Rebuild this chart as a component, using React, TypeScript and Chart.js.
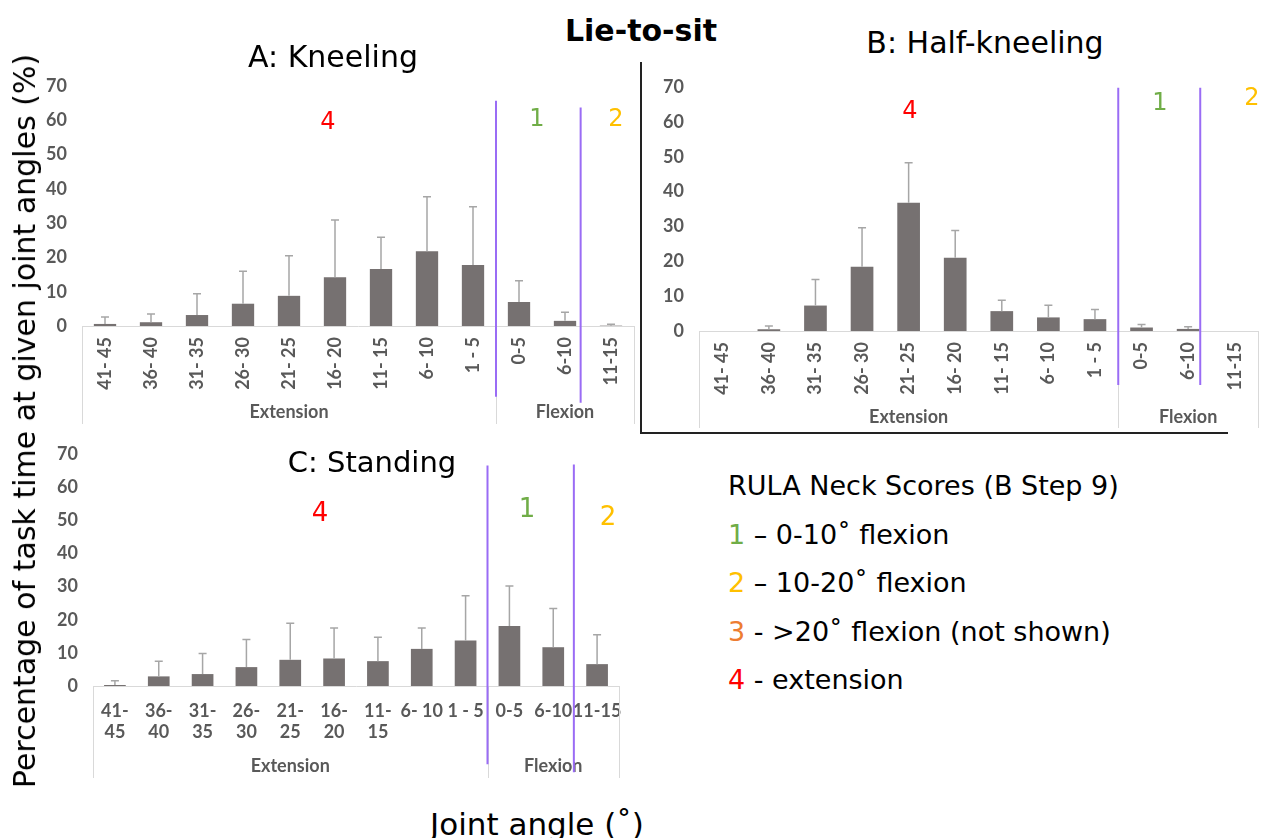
import React, { useEffect, useRef } from "react";
import { Chart, registerables } from "chart.js";

Chart.register(...registerables);

// ---------- data ----------
const categories = ["41- 45", "36- 40", "31- 35", "26- 30", "21- 25", "16- 20", "11- 15", "6- 10", "1 - 5", "0-5", "6-10", "11-15"];
const categoriesStanding: (string | string[])[] = [["41-", "45"], ["36-", "40"], ["31-", "35"], ["26-", "30"], ["21-", "25"], ["16-", "20"], ["11-", "15"], "6- 10", "1 - 5", "0-5", "6-10", "11-15"];
const groupLabels = ["Extension", "Flexion"];
const groupSizes = [9, 3];
const yTickMin = 0;
const yTickMax = 70;
const yTickStep = 10;

const kneelingMean = [0.6, 1.1, 3.2, 6.5, 8.8, 14.2, 16.6, 21.8, 17.8, 7.0, 1.5, 0.1];
const kneelingSD = [2.0, 2.4, 6.2, 9.5, 11.7, 16.7, 9.3, 15.9, 17.0, 6.2, 2.5, 0.4];

const halfKneelingMean = [0, 0.5, 7.3, 18.4, 36.8, 21.0, 5.7, 3.9, 3.4, 1.0, 0.6, 0];
const halfKneelingSD = [0, 0.9, 7.5, 11.2, 11.5, 7.8, 3.1, 3.5, 2.8, 0.9, 0.6, 0];

const standingMean = [0.3, 2.9, 3.6, 5.7, 7.9, 8.3, 7.5, 11.2, 13.7, 18.1, 11.7, 6.6];
const standingSD = [1.3, 4.6, 6.2, 8.3, 11.0, 9.2, 7.2, 6.3, 13.5, 12.1, 11.7, 8.9];

// ---------- styles ----------
const BAR = "#767171";
const ERR = "#a6a6a6";
const AXIS = "#d9d9d9";
const TICK = "#595959";
const PURPLE = "#9a6cf5";
const TICK_FONT = { family: "Lato", size: 18, weight: "bold" as const };
const TEXT_FONT = "'DejaVu Sans', Verdana, sans-serif";

type PanelCfg = {
  labels: (string | string[])[];
  mean: number[];
  sd: number[];
  left: number; top: number; width: number; height: number;
  yAxisWidth: number; padTop: number; padRight: number; xAxisHeight: number;
  rotate: boolean; tickPad: number; groupLabelOffset: number; boxDepth: number;
  purple: { x: number; y0: number; y1: number }[];
  catPct: number;
};

function overlayPlugin(cfg: PanelCfg) {
  return {
    id: "overlay",
    afterDatasetsDraw(chart: any) {
      const ctx = chart.ctx as CanvasRenderingContext2D;
      const xs = chart.scales.x;
      const ys = chart.scales.y;
      const meta = chart.getDatasetMeta(0);
      ctx.save();
      // error bars (upper only)
      ctx.strokeStyle = ERR;
      ctx.lineWidth = 1.5;
      cfg.sd.forEach((s, i) => {
        if (!s) return;
        const px = meta.data[i].x;
        const y0 = ys.getPixelForValue(cfg.mean[i]);
        const y1 = ys.getPixelForValue(cfg.mean[i] + s);
        ctx.beginPath();
        ctx.moveTo(px, y0);
        ctx.lineTo(px, y1);
        ctx.moveTo(px - 4, y1);
        ctx.lineTo(px + 4, y1);
        ctx.stroke();
      });
      // multi-level category box
      const base = ys.getPixelForValue(0);
      ctx.strokeStyle = AXIS;
      ctx.lineWidth = 1;
      let start = -0.5;
      const bounds = [start];
      groupSizes.forEach((n) => { start += n; bounds.push(start); });
      bounds.forEach((b) => {
        const px = Math.round(xs.getPixelForValue(b)) + 0.5;
        ctx.beginPath();
        ctx.moveTo(px, base);
        ctx.lineTo(px, base + cfg.boxDepth);
        ctx.stroke();
      });
      ctx.fillStyle = TICK;
      ctx.font = `bold ${TICK_FONT.size}px ${TICK_FONT.family}`;
      ctx.textAlign = "center";
      ctx.textBaseline = "middle";
      groupLabels.forEach((g, i) => {
        const cx = (xs.getPixelForValue(bounds[i]) + xs.getPixelForValue(bounds[i + 1])) / 2;
        ctx.fillText(g, cx, base + cfg.groupLabelOffset);
      });
      // purple score boundaries
      ctx.strokeStyle = PURPLE;
      ctx.lineWidth = 2;
      cfg.purple.forEach((p) => {
        const px = xs.getPixelForValue(p.x);
        ctx.beginPath();
        ctx.moveTo(px, ys.getPixelForValue(p.y0));
        ctx.lineTo(px, ys.getPixelForValue(p.y1));
        ctx.stroke();
      });
      ctx.restore();
    },
  };
}

function Panel({ cfg }: { cfg: PanelCfg }) {
  const ref = useRef<HTMLCanvasElement | null>(null);
  useEffect(() => {
    if (!ref.current) return;
    const chart = new Chart(ref.current, {
      type: "bar",
      data: {
        labels: cfg.labels as any,
        datasets: [
          {
            data: cfg.mean,
            backgroundColor: BAR,
            borderWidth: 0,
            categoryPercentage: cfg.catPct,
            barPercentage: 1,
          },
        ],
      },
      options: {
        animation: false,
        responsive: false,
        devicePixelRatio: 1,
        layout: { padding: { top: cfg.padTop, right: cfg.padRight, left: 0, bottom: 0 } },
        plugins: { legend: { display: false }, tooltip: { enabled: false }, title: { display: false } },
        scales: {
          x: {
            grid: { display: false, drawTicks: false },
            border: { display: true, color: AXIS, width: 1 },
            ticks: {
              autoSkip: false,
              color: TICK,
              font: TICK_FONT,
              padding: cfg.tickPad,
              minRotation: cfg.rotate ? 90 : 0,
              maxRotation: cfg.rotate ? 90 : 0,
            },
            afterFit: (s: any) => {
              s.height = cfg.xAxisHeight;
              s.paddingLeft = 0;
              s.paddingRight = 0;
            },
          },
          y: {
            min: yTickMin,
            max: yTickMax,
            grid: { display: false, drawTicks: false },
            border: { display: false },
            ticks: { stepSize: yTickStep, color: TICK, font: TICK_FONT, padding: 15 },
            afterFit: (s: any) => {
              s.width = cfg.yAxisWidth;
              s.paddingTop = 0;
              s.paddingBottom = 0;
            },
          },
        },
      },
      plugins: [overlayPlugin(cfg)],
    });
    return () => chart.destroy();
  }, [cfg]);
  return (
    <canvas
      ref={ref}
      width={cfg.width}
      height={cfg.height}
      style={{ position: "absolute", left: cfg.left, top: cfg.top, width: cfg.width, height: cfg.height }}
    />
  );
}

const panelA: PanelCfg = {
  labels: categories, mean: kneelingMean, sd: kneelingSD,
  left: 20, top: 70, width: 630, height: 360,
  yAxisWidth: 62, padTop: 16, padRight: 16, xAxisHeight: 104,
  rotate: true, tickPad: 11, groupLabelOffset: 86, boxDepth: 98,
  purple: [{ x: 8.5, y0: 65.7, y1: -20.6 }, { x: 10.34, y0: 63.7, y1: -22.4 }],
  catPct: 0.485,
};
const panelB: PanelCfg = {
  labels: categories, mean: halfKneelingMean, sd: halfKneelingSD,
  left: 645, top: 70, width: 618, height: 365,
  yAxisWidth: 54, padTop: 17, padRight: 5, xAxisHeight: 104,
  rotate: true, tickPad: 11, groupLabelOffset: 86, boxDepth: 97,
  purple: [{ x: 8.5, y0: 69.8, y1: -15.5 }, { x: 10.26, y0: 69.8, y1: -15.5 }],
  catPct: 0.487,
};
const panelC: PanelCfg = {
  labels: categoriesStanding, mean: standingMean, sd: standingSD,
  left: 20, top: 440, width: 620, height: 345,
  yAxisWidth: 73, padTop: 14, padRight: 21, xAxisHeight: 99,
  rotate: false, tickPad: 14, groupLabelOffset: 80, boxDepth: 92,
  purple: [{ x: 8.5, y0: 66.5, y1: -23.6 }, { x: 10.47, y0: 66.8, y1: -26 }],
  catPct: 0.495,
};

function Txt({ x, y, size, color = "#000", bold = false, children, rotate = false }: any) {
  return (
    <div
      style={{
        position: "absolute",
        left: x,
        top: y,
        transform: `translate(-50%, -50%)${rotate ? " rotate(-90deg)" : ""}`,
        whiteSpace: "nowrap",
        fontFamily: TEXT_FONT,
        fontSize: size,
        fontWeight: bold ? "bold" : "normal",
        color,
        lineHeight: 1,
      }}
    >
      {children}
    </div>
  );
}

const GREEN = "#70ad47";
const YELLOW = "#ffc000";
const ORANGE = "#ed7d31";
const RED = "#ff0000";

export default function App() {
  return (
    <div style={{ position: "absolute", left: 0, top: 0, width: 1263, height: 838, background: "#fff", overflow: "hidden" }}>
      <Panel cfg={panelA} />
      <Panel cfg={panelB} />
      <Panel cfg={panelC} />

      {/* separators */}
      <div style={{ position: "absolute", left: 640, top: 62, width: 2, height: 372, background: "#222" }} />
      <div style={{ position: "absolute", left: 640, top: 432, width: 588, height: 2, background: "#222" }} />

      <Txt x={641} y={31} size={30} bold>Lie-to-sit</Txt>
      <Txt x={333} y={57} size={30}>A: Kneeling</Txt>
      <Txt x={985} y={43} size={30}>B: Half-kneeling</Txt>
      <Txt x={372} y={462} size={29}>C: Standing</Txt>

      <Txt x={328} y={121} size={24} color={RED}>4</Txt>
      <Txt x={537} y={118} size={24} color={GREEN}>1</Txt>
      <Txt x={616} y={118} size={24} color={YELLOW}>2</Txt>

      <Txt x={910} y={110} size={24} color={RED}>4</Txt>
      <Txt x={1160} y={102} size={24} color={GREEN}>1</Txt>
      <Txt x={1252} y={97} size={24} color={YELLOW}>2</Txt>

      <Txt x={320} y={512} size={26} color={RED}>4</Txt>
      <Txt x={527} y={508} size={26} color={GREEN}>1</Txt>
      <Txt x={608} y={516} size={26} color={YELLOW}>2</Txt>

      <Txt x={25} y={421} size={30} rotate>Percentage of task time at given joint angles (%)</Txt>
      <Txt x={537} y={824} size={31}>Joint angle (˚)</Txt>

      <div style={{ position: "absolute", left: 728, top: 462, fontFamily: TEXT_FONT, fontSize: 27, lineHeight: "48.5px", color: "#000", whiteSpace: "nowrap" }}>
        <div>RULA Neck Scores (B Step 9)</div>
        <div><span style={{ color: GREEN }}>1</span> – 0-10˚ flexion</div>
        <div><span style={{ color: YELLOW }}>2</span> – 10-20˚ flexion</div>
        <div><span style={{ color: ORANGE }}>3</span> - &gt;20˚ flexion (not shown)</div>
        <div><span style={{ color: RED }}>4</span> - extension</div>
      </div>
    </div>
  );
}
